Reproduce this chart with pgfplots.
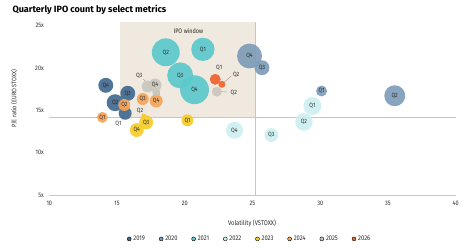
\documentclass[border=0pt]{standalone}
\usepackage{fontspec}
\setmainfont{Fira Sans}[FakeStretch=0.86]
\newfontfamily\titlefont{Fira Sans}
\usepackage{pgfplots}
\usepackage{pgfplotstable}
\pgfplotsset{compat=1.18}

\definecolor{cA}{HTML}{41698F}% 2019
\definecolor{cB}{HTML}{7E9CB8}% 2020
\definecolor{cC}{HTML}{5CC9CD}% 2021
\definecolor{cD}{HTML}{CDEFF0}% 2022
\definecolor{cE}{HTML}{F6CC2A}% 2023
\definecolor{cF}{HTML}{F5A45A}% 2024
\definecolor{cG}{HTML}{CCC7BD}% 2025
\definecolor{cH}{HTML}{F2622E}% 2026
\definecolor{win}{HTML}{EFE9DF}
\definecolor{refline}{HTML}{CBC6BC}
\definecolor{txt}{HTML}{2B2B2B}

% x = volatility, y = P/E, r = bubble radius (pt), lab = quarter shown inside
\pgfplotstableread{
x y r lab
15.60 14.65 6.5 {}
14.86 15.90 8.5 Q2
15.79 17.01 7.5 Q3
14.17 17.95 7.5 Q4
}\yrA
\pgfplotstableread{
x y r lab
30.10 17.28 5.5 Q1
35.50 16.72 10.5 Q2
25.70 20.03 7.5 Q3
24.78 21.41 12.5 Q4
}\yrB
\pgfplotstableread{
x y r lab
21.34 22.20 11.7 Q1
18.60 21.85 14.0 Q2
19.66 19.13 13.0 Q3
20.72 17.43 14.5 Q4
}\yrC
\pgfplotstableread{
x y r lab
29.42 15.51 9.0 Q1
28.80 13.62 8.8 Q2
26.39 12.08 7.0 Q3
23.67 12.64 8.5 Q4
}\yrD
\pgfplotstableread{
x y r lab
20.20 13.82 6.0 Q1
16.98 14.30 2.5 {}
17.15 13.58 7.0 Q3
16.46 12.67 7.0 Q4
}\yrE
\pgfplotstableread{
x y r lab
13.92 14.17 5.5 Q1
15.54 15.63 6.0 Q2
16.90 16.33 6.0 Q3
17.89 16.10 6.5 Q4
}\yrF
\pgfplotstableread{
x y r lab
17.89 17.16 4.0 {}
22.37 17.20 5.0 {}
17.26 17.81 6.0 {}
17.81 17.99 6.5 Q4
}\yrG
\pgfplotstableread{
x y r lab
22.25 18.66 5.5 {}
22.74 18.07 3.5 {}
}\yrH

\pgfplotsset{
  bubble/.style={
    scatter, only marks, mark=*, forget plot, color=#1,
    point meta=explicit symbolic,
    visualization depends on={\thisrow{r} \as \rad},
    scatter/@pre marker code/.code={\scope[mark size=\rad pt, fill=#1,
      fill opacity=0.92, draw opacity=0]},
    scatter/@post marker code/.code={\endscope},
    nodes near coords*, nodes near coords align={center},
    every node near coord/.append style={anchor=center, inner sep=0pt,
      font=\fontsize{6.2}{7}\selectfont, text=txt},
  },
}

\begin{document}
\begin{tikzpicture}
\path[use as bounding box] (0,0) rectangle (470bp,248bp);

\begin{axis}[
  at={(49.3bp,53bp)}, anchor=south west,
  scale only axis, width=406.4bp, height=173.6bp,
  xmin=10, xmax=40, ymin=5, ymax=25.5,
  xtick={10,15,...,40}, ytick={5,10,...,25},
  yticklabel={\pgfmathprintnumber{\tick}x},
  axis line style={draw=none}, tick style={draw=none},
  /pgf/number format/assume math mode=true,
  ticklabel style={font=\fontsize{6.5}{7}\selectfont, text=txt},
  xticklabel style={yshift=-3pt},
  yticklabel style={xshift=-2pt},
  clip=false,
  legend style={draw=none, fill=none, legend columns=8,
    at={(0.493,-0.253)}, anchor=center,
    font=\fontsize{6.8}{7}\selectfont, text=txt,
    /tikz/every even column/.append style={column sep=12pt}},
  legend image code/.code={\fill[#1] (0.05cm,0) circle (2pt);},
]
% IPO window and reference lines
\fill[win] (axis cs:15.2,14.2) rectangle (axis cs:25.2,25.4);
\draw[refline, line width=0.9pt] (axis cs:10,14.2) -- (axis cs:40,14.2);
\draw[refline, line width=0.9pt] (axis cs:25.2,5) -- (axis cs:25.2,25.4);
\draw[refline, line width=0.9pt] (axis cs:10,5) -- (axis cs:40,5);
\node[font=\fontsize{6.5}{7}\selectfont, text=txt] at (axis cs:20.27,24.35) {IPO window};

\addplot[bubble=cA] table[meta=lab] {\yrA};
\addplot[bubble=cB] table[meta=lab] {\yrB};
\addplot[bubble=cC] table[meta=lab] {\yrC};
\addplot[bubble=cD] table[meta=lab] {\yrD};
\addplot[bubble=cE] table[meta=lab] {\yrE};
\addplot[bubble=cF] table[meta=lab] {\yrF};
\addplot[bubble=cG] table[meta=lab] {\yrG};
\addplot[bubble=cH] table[meta=lab] {\yrH};

% quarter labels placed beside crowded bubbles
\begin{scope}[every node/.style={font=\fontsize{6.2}{7}\selectfont, text=txt, inner sep=0pt}]
\draw[gray!80, line width=0.35pt] (axis cs:15.36,13.91) -- (axis cs:15.51,14.21);
\node at (axis cs:15.10,13.40) {Q1};
\draw[gray!80, line width=0.35pt] (axis cs:16.86,14.62) -- (axis cs:17.0,14.27);
\node at (axis cs:16.70,14.98) {Q2};
\draw[gray!80, line width=0.35pt] (axis cs:16.92,18.70) -- (axis cs:17.29,18.10);
\node at (axis cs:16.63,19.10) {Q3};
\node at (axis cs:17.94,17.02) {Q1};
\draw[white!80!gray, line width=0.35pt] (axis cs:22.47,19.52) -- (axis cs:22.32,18.93);
\node at (axis cs:22.54,19.98) {Q1};
\draw[gray!80, line width=0.35pt] (axis cs:23.43,19.05) -- (axis cs:22.84,18.22);
\node at (axis cs:23.80,19.27) {Q2};
\draw[gray!80, line width=0.35pt] (axis cs:23.13,17.16) -- (axis cs:22.62,17.22);
\node at (axis cs:23.62,17.08) {Q2};
\end{scope}

\addlegendimage{fill=cA}\addlegendentry{2019}
\addlegendimage{fill=cB}\addlegendentry{2020}
\addlegendimage{fill=cC}\addlegendentry{2021}
\addlegendimage{fill=cD}\addlegendentry{2022}
\addlegendimage{fill=cE}\addlegendentry{2023}
\addlegendimage{fill=cF}\addlegendentry{2024}
\addlegendimage{fill=cG}\addlegendentry{2025}
\addlegendimage{fill=cH}\addlegendentry{2026}
\end{axis}

\node[anchor=west, font=\titlefont\bfseries\fontsize{9.1}{11}\selectfont, text=black] at (9bp,238bp) {Quarterly IPO count by select metrics};
\node[rotate=90, font=\fontsize{6.5}{7}\selectfont, text=txt] at (14bp,149bp) {P/E ratio (EURO STOXX)};
\node[font=\fontsize{6.8}{7}\selectfont, text=txt] at (252bp,25bp) {Volatility (VSTOXX)};
\end{tikzpicture}
\end{document}
